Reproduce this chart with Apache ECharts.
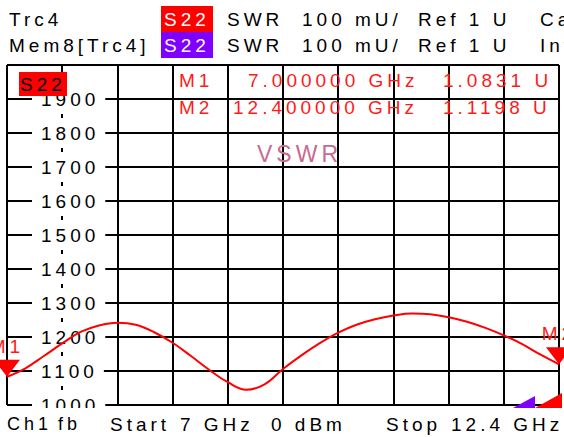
<!DOCTYPE html>
<html><head><meta charset="utf-8">
<script src="https://cdn.jsdelivr.net/npm/echarts@6/dist/echarts.min.js"></script>
<style>
html,body{margin:0;padding:0;background:#fff;overflow:hidden;}
#chart{width:564px;height:437px;}
#chart svg text{letter-spacing:4px;}
</style></head><body><div id="chart"></div>
<script>
// ---- data ----
const freqGHz = [7.00,7.18,7.36,7.54,7.72,7.90,8.08,8.26,8.44,8.62,8.80,8.98,9.16,9.34,9.52,9.70,
                 9.88,10.06,10.24,10.42,10.60,10.78,10.96,11.14,11.32,11.50,11.68,11.86,12.04,12.22,12.40];
const swrMilliU = [1083.1,1108,1144,1181,1215,1234,1242,1236,1214,1183,1144,1103,1067,1045,1061,1106,
                   1146,1182,1213,1236,1252,1263,1269,1267,1258,1245,1227,1205,1179,1148,1119.8];
const yMin = 1000, yMax = 2000, yStep = 100;     // y tick labels 1000 ... 1900
const xStart = 7, xStop = 12.4, xDivisions = 10;
const markerNames = ['M1','M2'];
const markerFreqs = [7.0, 12.4];
const markerValues = [1083.1, 1119.8];
const markerFreqText = ['7.000000 GHz','12.400000 GHz'];
const markerValueText = ['1.0831 U','1.1198 U'];
const headerRow1 = ['Trc4','S22','SWR','100 mU/','Ref 1 U','Cal'];
const headerRow2 = ['Mem8[Trc4]','S22','SWR','100 mU/','Ref 1 U','Inv'];
const footerTexts = ['Ch1','fb','Start','7 GHz','0 dBm','Stop','12.4 GHz'];
const traceLabel = 'S22';
const titleText = 'VSWR';

// ---- layout / style ----
const FONT = '"Liberation Sans", Arial, sans-serif';
const FS = 19;
function txt(text, x, y, fill, z, fs) {
  return {type:'text', x:x, y:y, z:z||10,
    style:{text:text, fill:fill||'#000', fontSize:fs||FS, fontFamily:FONT, verticalAlign:'middle', align:'left'}};
}
const graphics = [];
// header
const headerX = [9, null, 227, 302, 418, 540];
const boxColors = ['#ff0000', '#8000ff'];
[headerRow1, headerRow2].forEach((row, r) => {
  const yc = r === 0 ? 19 : 45;
  row.forEach((t, i) => {
    if (i === 1) {
      graphics.push({type:'rect', z:10, shape:{x:161, y:yc-13, width:52, height:26}, style:{fill:boxColors[r]}});
      graphics.push(txt(t, 164, yc, '#fff', 11));
    } else {
      graphics.push(txt(t, headerX[i], yc, '#000', 10));
    }
  });
});
// trace label box inside plot
graphics.push({type:'rect', z:10, shape:{x:19, y:72, width:48, height:24}, style:{fill:'#ff0000'}});
graphics.push(txt(traceLabel, 20, 84, '#000', 11));
// marker readouts
markerNames.forEach((n, i) => {
  const yc = i === 0 ? 80 : 107;
  graphics.push(txt(n, 179, yc, '#ff1a1a', 10));
  graphics.push(txt(markerFreqText[i], i === 0 ? 248 : 233, yc, '#ff1a1a', 10));
  graphics.push(txt(markerValueText[i], 443, yc, '#ff1a1a', 10));
});
// title
graphics.push(txt(titleText, 257, 154, '#c96a93', 10, 23));
// bottom mask + footer
graphics.push({type:'rect', z:50, shape:{x:0, y:408, width:564, height:29}, style:{fill:'#fff'}});
const footerX = [7, 58, 110, 180, 271, 386, 451];
footerTexts.forEach((t, i) => {
  const el = txt(t, footerX[i], 424, '#000', 51);
  if (i < 2) el.style.fontSize = 18;
  graphics.push(el);
});
// stimulus range indicators
graphics.push({type:'polygon', z:52, shape:{points:[[513,408],[535,408],[535,396]]}, style:{fill:'#8000ff'}});
graphics.push({type:'polygon', z:52, shape:{points:[[535,408],[562,408],[562,393]]}, style:{fill:'#ff0000'}});

const chart = echarts.init(document.getElementById('chart'), null, {renderer:'svg', width:564, height:437});
chart.setOption({
  animation:false,
  backgroundColor:'#fff',
  textStyle:{fontFamily:FONT},
  grid:{left:7, right:5, top:65, bottom:32, containLabel:false},
  xAxis:[
    {type:'value', min:xStart, max:xStop, show:false},
    {type:'value', min:0, max:xDivisions, interval:1, show:true, position:'bottom',
     axisLine:{show:false}, axisTick:{show:false}, axisLabel:{show:false},
     splitLine:{show:true, lineStyle:{color:'#000', width:2}}, z:0}
  ],
  yAxis:[
    {type:'value', min:yMin, max:yMax, interval:yStep, position:'left',
     axisLine:{show:false}, axisTick:{show:false}, axisLabel:{show:false},
     splitLine:{show:true, lineStyle:{color:'#000', width:2}}, z:0},
    {type:'value', min:yMin, max:yMax, interval:yStep, position:'left',
     axisLine:{show:false}, axisTick:{show:false}, splitLine:{show:false},
     axisLabel:{inside:true, margin:25, showMaxLabel:false, color:'#000', fontSize:FS, fontFamily:FONT,
                formatter: v => String(v),
                backgroundColor:'#fff', padding:[6,22,5,9]}, z:3}
  ],
  series:[{
    type:'line', xAxisIndex:0, yAxisIndex:0, z:5,
    data: freqGHz.map((f, i) => [f, swrMilliU[i]]),
    symbol:'none', smooth:0.4,
    lineStyle:{color:'#ff0000', width:2},
    markPoint:{
      symbol:'triangle', symbolSize:[26,17], symbolRotate:180, symbolOffset:[0,'-50%'],
      itemStyle:{color:'#ff0000'},
      label:{show:true, position:'top', distance:4, formatter:'{b}', color:'#ff1a1a', fontSize:FS, fontFamily:FONT},
      data: markerNames.map((n, i) => ({name:n, coord:[markerFreqs[i], markerValues[i]]}))
    }
  }],
  graphic:graphics
});
</script></body></html>
